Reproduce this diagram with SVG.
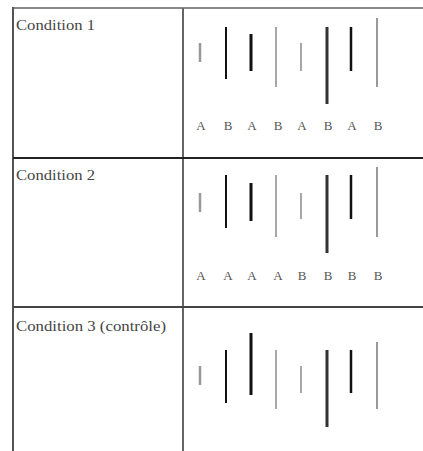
<svg xmlns="http://www.w3.org/2000/svg" width="423" height="451" viewBox="0 0 423 451">
<style>
.frame{stroke:#555;stroke-width:2;fill:none}
.lbl{font-family:"Liberation Serif","Times New Roman",serif;font-size:14px;fill:#444}
.let{font-family:"Liberation Serif","Times New Roman",serif;font-size:13px;fill:#555;text-anchor:middle}
.b1{stroke:#999;stroke-width:2.5}
.b2{stroke:#111;stroke-width:2}
.b3{stroke:#111;stroke-width:3}
.b4{stroke:#888;stroke-width:1.5}
.b5{stroke:#888;stroke-width:1.5}
.b6{stroke:#333;stroke-width:3}
.b7{stroke:#111;stroke-width:2.5}
.b8{stroke:#999;stroke-width:2}
</style>
<rect width="423" height="451" fill="#fff"/>
<g id="grid">
<line class="frame" x1="13" y1="8" x2="423" y2="8" style="stroke:#888"/>
<line class="frame" x1="13" y1="7" x2="13" y2="451"/>
<line class="frame" x1="183" y1="8" x2="183" y2="451" style="stroke:#666"/>
<line class="frame" x1="13" y1="158" x2="423" y2="158" style="stroke:#222"/>
<line class="frame" x1="13" y1="307" x2="423" y2="307" style="stroke:#444"/>
</g>
<g id="condition1">
<text class="lbl" x="16" y="30" textLength="79" lengthAdjust="spacingAndGlyphs">Condition 1</text>
<line class="b1" x1="200" y1="43" x2="200" y2="62"/>
<line class="b2" x1="226" y1="27" x2="226" y2="79"/>
<line class="b3" x1="251" y1="34" x2="251" y2="71"/>
<line class="b4" x1="276" y1="27" x2="276" y2="87"/>
<line class="b5" x1="301" y1="43" x2="301" y2="71"/>
<line class="b6" x1="327" y1="27" x2="327" y2="104"/>
<line class="b7" x1="351" y1="27" x2="351" y2="71"/>
<line class="b8" x1="377" y1="18" x2="377" y2="87"/>
<text class="let" x="201" y="130">A</text>
<text class="let" x="228" y="130">B</text>
<text class="let" x="252" y="130">A</text>
<text class="let" x="278" y="130">B</text>
<text class="let" x="302" y="130">A</text>
<text class="let" x="328" y="130">B</text>
<text class="let" x="352" y="130">A</text>
<text class="let" x="378" y="130">B</text>
</g>
<g id="condition2">
<text class="lbl" x="16" y="180" textLength="79" lengthAdjust="spacingAndGlyphs">Condition 2</text>
<line class="b1" x1="200" y1="193" x2="200" y2="212"/>
<line class="b2" x1="226" y1="175" x2="226" y2="228"/>
<line class="b3" x1="251" y1="183" x2="251" y2="221"/>
<line class="b4" x1="276" y1="175" x2="276" y2="237"/>
<line class="b5" x1="301" y1="193" x2="301" y2="219"/>
<line class="b6" x1="327" y1="175" x2="327" y2="253"/>
<line class="b7" x1="351" y1="175" x2="351" y2="219"/>
<line class="b8" x1="377" y1="167" x2="377" y2="237"/>
<text class="let" x="201" y="280">A</text>
<text class="let" x="228" y="280">A</text>
<text class="let" x="252" y="280">A</text>
<text class="let" x="278" y="280">A</text>
<text class="let" x="302" y="280">B</text>
<text class="let" x="328" y="280">B</text>
<text class="let" x="352" y="280">B</text>
<text class="let" x="378" y="280">B</text>
</g>
<g id="condition3">
<text class="lbl" x="16" y="331" textLength="150" lengthAdjust="spacingAndGlyphs">Condition 3 (contrôle)</text>
<line class="b1" x1="200" y1="366" x2="200" y2="385"/>
<line class="b2" x1="226" y1="350" x2="226" y2="403"/>
<line class="b3" x1="251" y1="333" x2="251" y2="395"/>
<line class="b4" x1="276" y1="350" x2="276" y2="409"/>
<line class="b5" x1="301" y1="366" x2="301" y2="393"/>
<line class="b6" x1="327" y1="350" x2="327" y2="427"/>
<line class="b7" x1="351" y1="350" x2="351" y2="393"/>
<line class="b8" x1="377" y1="342" x2="377" y2="409"/>
</g>
</svg>
